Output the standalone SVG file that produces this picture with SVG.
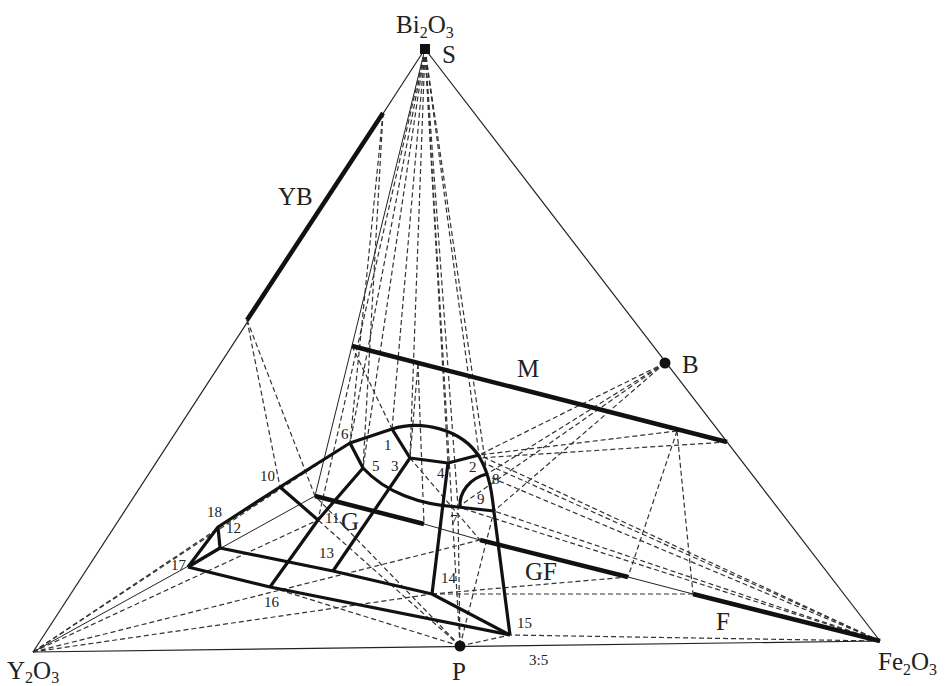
<svg xmlns="http://www.w3.org/2000/svg" width="946" height="686" viewBox="0 0 946 686">
<style>
.edge{stroke:#222;stroke-width:1.2;fill:none}
.thin{stroke:#222;stroke-width:1;fill:none}
.phase{stroke:#111;stroke-width:4.5;fill:none;stroke-linecap:butt}
.bound{stroke:#111;stroke-width:3.2;fill:none;stroke-linejoin:round}
.tie{stroke:#333;stroke-width:1.2;fill:none;stroke-dasharray:5,3}
.big{font-family:"Liberation Serif","Times New Roman",serif;font-size:25px;fill:#222}
.num{font-family:"Liberation Serif","Times New Roman",serif;font-size:15px;fill:#222}
</style>
<rect width="946" height="686" fill="#fff"/>
<g id="triangle">
<line class="edge" x1="425" y1="49" x2="33" y2="652"/>
<line class="edge" x1="425" y1="49" x2="880" y2="641"/>
<line class="edge" x1="33" y1="652" x2="880" y2="641"/>
<line class="thin" x1="33" y1="652" x2="315" y2="496"/>
<line class="thin" x1="425" y1="49" x2="315" y2="496"/>
<line class="thin" x1="424" y1="524" x2="480" y2="540"/>
<line class="thin" x1="628" y1="577" x2="693" y2="594"/>
</g>
<g id="connectors">
<line class="tie" x1="425" y1="49" x2="350" y2="443"/>
<line class="tie" x1="425" y1="49" x2="363" y2="468"/>
<line class="tie" x1="425" y1="49" x2="392" y2="429"/>
<line class="tie" x1="425" y1="49" x2="410" y2="458"/>
<line class="tie" x1="425" y1="49" x2="318" y2="520"/>
<line class="tie" x1="425" y1="49" x2="448" y2="463"/>
<line class="tie" x1="425" y1="49" x2="479" y2="455"/>
<line class="tie" x1="425" y1="49" x2="487" y2="474"/>
<line class="tie" x1="425" y1="49" x2="460" y2="646"/>
<line class="tie" x1="425" y1="49" x2="458" y2="507"/>
<line class="tie" x1="383" y1="113" x2="350" y2="443"/>
<line class="tie" x1="383" y1="113" x2="363" y2="468"/>
<line class="tie" x1="247" y1="320" x2="280" y2="487"/>
<line class="tie" x1="247" y1="320" x2="315" y2="496"/>
<line class="tie" x1="352" y1="346" x2="392" y2="429"/>
<line class="tie" x1="418" y1="364" x2="410" y2="458"/>
<line class="tie" x1="418" y1="364" x2="424" y2="524"/>
<line class="tie" x1="665" y1="363" x2="479" y2="455"/>
<line class="tie" x1="665" y1="363" x2="487" y2="474"/>
<line class="tie" x1="665" y1="363" x2="494" y2="511"/>
<line class="tie" x1="665" y1="363" x2="458" y2="507"/>
<line class="tie" x1="727" y1="442" x2="479" y2="458"/>
<line class="tie" x1="677" y1="431" x2="479" y2="455"/>
<line class="tie" x1="677" y1="431" x2="628" y2="577"/>
<line class="tie" x1="677" y1="431" x2="693" y2="594"/>
<line class="tie" x1="880" y1="641" x2="479" y2="455"/>
<line class="tie" x1="880" y1="641" x2="484" y2="463"/>
<line class="tie" x1="880" y1="641" x2="487" y2="476"/>
<line class="tie" x1="880" y1="641" x2="494" y2="511"/>
<line class="tie" x1="880" y1="641" x2="458" y2="507"/>
<line class="tie" x1="880" y1="641" x2="510" y2="635"/>
<line class="tie" x1="432" y1="594" x2="693" y2="594"/>
<line class="tie" x1="432" y1="594" x2="628" y2="577"/>
<line class="tie" x1="460" y1="646" x2="270" y2="587"/>
<line class="tie" x1="460" y1="646" x2="315" y2="496"/>
<line class="tie" x1="460" y1="646" x2="318" y2="520"/>
<line class="tie" x1="460" y1="646" x2="458" y2="507"/>
<line class="tie" x1="460" y1="646" x2="494" y2="511"/>
<line class="tie" x1="460" y1="646" x2="510" y2="635"/>
<line class="tie" x1="33" y1="652" x2="350" y2="443"/>
<line class="tie" x1="33" y1="652" x2="280" y2="487"/>
<line class="tie" x1="33" y1="652" x2="318" y2="520"/>
<line class="tie" x1="33" y1="652" x2="480" y2="540"/>
<line class="tie" x1="33" y1="652" x2="432" y2="594"/>
<line class="tie" x1="410" y1="458" x2="480" y2="540"/>
</g>
<g id="phase-YB"><line class="phase" x1="383" y1="113" x2="247" y2="320"/><text class="big" x="278" y="205">YB</text></g>
<g id="phase-M"><line class="phase" x1="352" y1="346" x2="727" y2="442"/><text class="big" x="517" y="377">M</text></g>
<g id="phase-B"><circle cx="665" cy="363" r="5.5" fill="#111"/><text class="big" x="682" y="373">B</text></g>
<g id="phase-G"><line class="phase" x1="315" y1="496" x2="424" y2="524"/><text class="big" x="341" y="530" font-size="26">G</text></g>
<g id="phase-GF"><line class="phase" x1="480" y1="540" x2="628" y2="577"/><text class="big" x="525" y="580" font-size="26">GF</text></g>
<g id="phase-F"><line class="phase" x1="693" y1="594" x2="880" y2="641"/><text class="big" x="716" y="630" font-size="26">F</text></g>
<g id="vertex-S"><rect x="420" y="44" width="10" height="10" fill="#111"/><text class="big" x="442" y="63">S</text>
<text class="big" x="396" y="33" font-size="24">Bi<tspan font-size="16" dy="5">2</tspan><tspan dy="-5">O</tspan><tspan font-size="16" dy="5">3</tspan></text></g>
<g id="vertex-Y2O3"><text class="big" x="7" y="679" font-size="24">Y<tspan font-size="16" dy="4">2</tspan><tspan dy="-4">O</tspan><tspan font-size="16" dy="4">3</tspan></text></g>
<g id="vertex-Fe2O3"><text class="big" x="878" y="670" font-size="24">Fe<tspan font-size="16" dy="5">2</tspan><tspan dy="-5">O</tspan><tspan font-size="16" dy="5">3</tspan></text></g>
<g id="point-P"><circle cx="460" cy="646" r="5.5" fill="#111"/><text class="big" x="452" y="680">P</text><text class="num" x="529" y="665">3:5</text></g>
<g id="region">
<path class="bound" d="M188,567 L218,527 L280,487 L350,443 L392,429 C420,420 462,428 480,458 C490,476 492,494 494,512 L510,635"/>
<path class="bound" d="M188,567 L270,587 L510,635"/>
<path class="bound" d="M188,567 L220,548 L218,527"/>
<path class="bound" d="M220,548 L333,571 L432,594 L510,635"/>
<path class="bound" d="M280,487 L318,520"/>
<path class="bound" d="M363,468 L318,520 L270,587"/>
<path class="bound" d="M410,458 L333,571"/>
<path class="bound" d="M392,429 L410,458 L448,463 L479,455"/>
<path class="bound" d="M448,463 L432,594"/>
<path class="bound" d="M350,443 L363,468 C385,492 420,505 458,507 L494,511"/>
<path class="bound" d="M460,507 C459,492 470,478 487,474"/>
</g>
<g id="labels">
<text class="num" x="341" y="439">6</text>
<text class="num" x="384" y="450">1</text>
<text class="num" x="372" y="471">5</text>
<text class="num" x="391" y="471">3</text>
<text class="num" x="437" y="478">4</text>
<text class="num" x="469" y="472">2</text>
<text class="num" x="492" y="484">8</text>
<text class="num" x="477" y="504">9</text>
<text class="num" x="450" y="525">7</text>
<text class="num" x="260" y="481">10</text>
<text class="num" x="325" y="523">11</text>
<text class="num" x="226" y="533">12</text>
<text class="num" x="319" y="558">13</text>
<text class="num" x="441" y="583">14</text>
<text class="num" x="517" y="628">15</text>
<text class="num" x="264" y="607">16</text>
<text class="num" x="171" y="570">17</text>
<text class="num" x="207" y="517">18</text>
</g>
</svg>
